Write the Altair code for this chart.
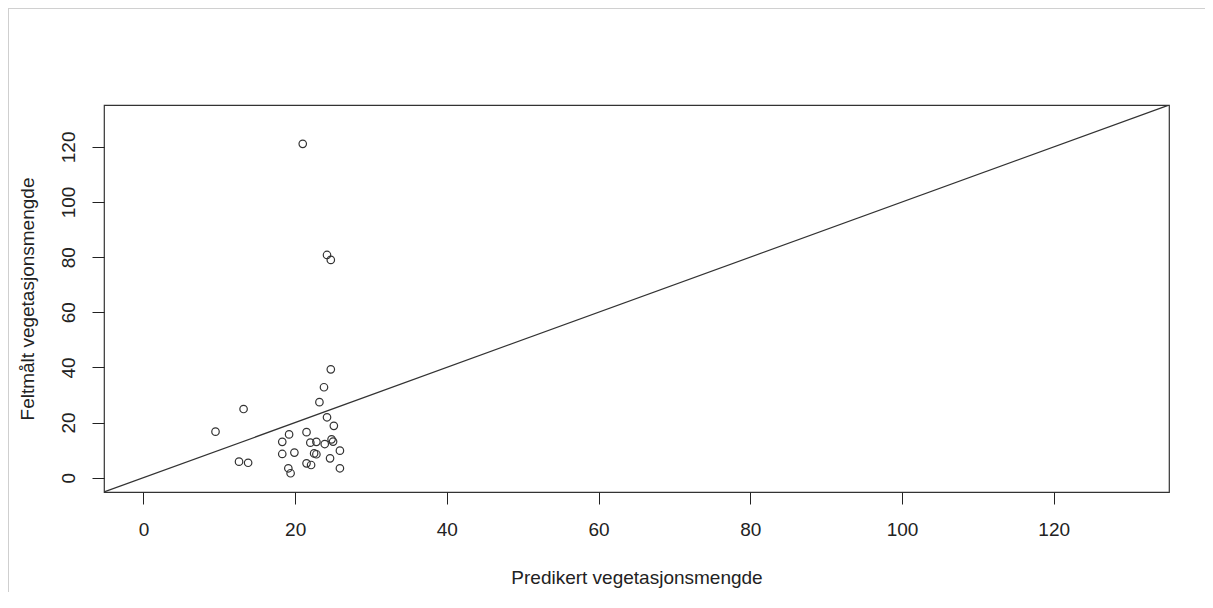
import altair as alt
import pandas as pd

predikert = [21.0, 24.2, 24.7, 24.7, 23.8, 23.2, 24.2, 25.1, 13.2, 9.5,
             12.6, 13.8, 19.2, 21.5, 18.3, 22.0, 22.8, 23.9, 24.8, 25.0,
             18.3, 19.9, 22.5, 22.8, 25.9, 24.6, 21.5, 22.1, 19.1, 19.4, 25.9]
feltmaalt = [121.1, 80.8, 79.0, 39.3, 32.8, 27.4, 21.9, 18.8, 24.9, 16.7,
             5.8, 5.4, 15.7, 16.5, 13.0, 12.7, 13.0, 12.2, 13.9, 13.1,
             8.6, 9.1, 8.8, 8.5, 9.8, 7.0, 5.2, 4.6, 3.4, 1.6, 3.4]

axis_range = [-5.2, 135.2]
tick_values = [0, 20, 40, 60, 80, 100, 120]

pts = pd.DataFrame({"pred": predikert, "obs": feltmaalt})
diag = pd.DataFrame({"pred": axis_range, "obs": axis_range})

FONT = "Liberation Sans"
FS = 19

xscale = alt.Scale(domain=axis_range, nice=False, zero=False)
yscale = alt.Scale(domain=axis_range, nice=False, zero=False)

xaxis = alt.Axis(values=tick_values, grid=False, domain=False, tickSize=12,
                 tickColor="#222", tickWidth=1, labelFontSize=FS,
                 labelFont=FONT, labelColor="#222", labelPadding=25,
                 labelBaseline="middle", title="Predikert vegetasjonsmengde",
                 titleFont=FONT, titleFontSize=FS, titleFontWeight="normal",
                 titleColor="#222", titleY=85, titleBaseline="middle")
yaxis = alt.Axis(values=tick_values, grid=False, domain=False, tickSize=12,
                 tickColor="#222", tickWidth=1, labelFontSize=FS,
                 labelFont=FONT, labelColor="#222", labelPadding=24,
                 labelAngle=270, labelAlign="center", labelBaseline="middle",
                 title="Feltmålt vegetasjonsmengde", titleFont=FONT,
                 titleFontSize=FS, titleFontWeight="normal", titleColor="#222",
                 titleX=-77, titleBaseline="middle")

points = alt.Chart(pts).mark_point(
    shape="circle", filled=False, size=56, strokeWidth=1.2, color="#333", opacity=1
).encode(
    x=alt.X("pred:Q", scale=xscale, axis=xaxis),
    y=alt.Y("obs:Q", scale=yscale, axis=yaxis),
)

line = alt.Chart(diag).mark_line(color="#333", strokeWidth=1.2, clip=True).encode(
    x=alt.X("pred:Q", scale=xscale),
    y=alt.Y("obs:Q", scale=yscale),
)

# light grey frame of the original screenshot (decoration only)
frame_top = alt.Chart(pts).mark_rule(color="#cfcfcf", strokeWidth=1).encode(
    x=alt.value(-96), x2=alt.value(1120), y=alt.value(-97)
)
frame_left = alt.Chart(pts).mark_rule(color="#cfcfcf", strokeWidth=1).encode(
    x=alt.value(-95.5), y=alt.value(-97), y2=alt.value(520)
)

chart = alt.layer(frame_top, frame_left, line, points).properties(
    width=1065, height=387,
    autosize=alt.AutoSizeParams(type="none"),
    padding={"left": 96, "top": 97, "right": 36, "bottom": 100},
).configure(
    background="white"
).configure_view(
    stroke="#333", strokeWidth=1.2
)

chart.save("out.html", embed_options={"renderer": "svg", "actions": False})
